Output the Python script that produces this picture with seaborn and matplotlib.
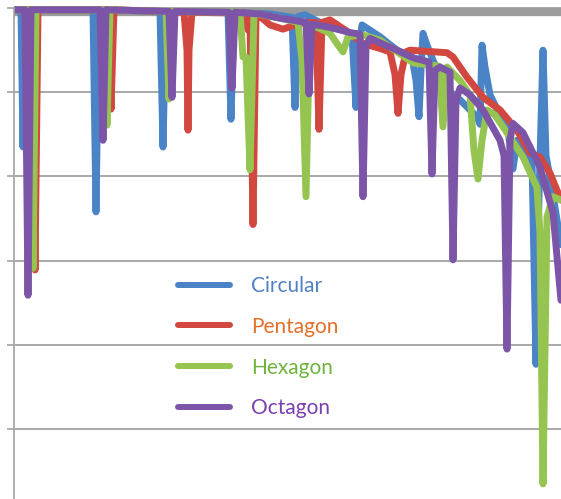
import matplotlib
matplotlib.use("Agg")
import matplotlib.pyplot as plt
import pandas as pd
import seaborn as sns

# Response of the four aperture shapes: frequency index vs. level (dB)
shapes = ["Circular", "Pentagon", "Hexagon", "Octagon"]

circular_freq = [0, 7, 9, 11, 79, 82, 85, 146, 149, 152, 214, 217, 220, 256, 278, 281, 284,
                 291, 301, 316, 331, 338, 342, 345, 348, 366, 383, 398, 402, 405, 407, 409,
                 413, 419, 426, 433, 446, 456, 463, 466, 468, 471, 476, 486, 494, 499, 503,
                 511, 518, 522, 525, 529, 532, 539, 547]
circular_level = [-0.2, -0.2, -16.5, -0.2, -0.2, -24.2, -0.2, -0.4, -16.5, -0.4, -0.5, -13.2,
                  -0.5, -0.7, -1.1, -11.8, -1.0, -0.8, -1.4, -2.3, -2.6, -3.2, -11.8, -4.4,
                  -2.0, -3.4, -5.0, -5.8, -8.6, -12.9, -7.4, -3.0, -4.4, -6.2, -8.0, -9.7,
                  -10.9, -12.1, -12.9, -13.8, -4.4, -7.0, -10.3, -12.7, -14.5, -19.1, -15.7,
                  -16.9, -18.1, -42.3, -22.2, -5.0, -17.5, -22.2, -28.1]

pentagon_freq = [0, 18, 21, 24, 94, 97, 100, 170, 173, 174, 175, 178, 231, 234, 236, 239, 242,
                 248, 256, 269, 281, 291, 302, 305, 308, 316, 331, 349, 366, 376, 381, 384,
                 387, 392, 396, 433, 439, 453, 469, 486, 503, 516, 526, 536, 547]
pentagon_level = [-0.2, -0.2, -31.1, -0.2, -0.2, -12.0, -0.2, -0.5, -5.0, -14.5, -5.0, -0.5,
                  -0.6, -2.6, -1.1, -25.7, -0.7, -1.2, -2.0, -2.5, -2.0, -1.7, -1.7, -14.4,
                  -1.7, -1.4, -2.6, -4.2, -4.8, -5.2, -7.9, -12.5, -7.9, -5.2, -5.0, -5.3,
                  -5.8, -8.2, -10.6, -12.1, -14.5, -17.2, -17.7, -19.6, -22.8]

hexagon_freq = [0, 16, 19, 22, 90, 93, 96, 152, 155, 158, 226, 229, 232, 236, 240, 248, 266,
                284, 288, 292, 295, 298, 316, 324, 329, 334, 349, 366, 399, 425, 429, 433,
                446, 456, 460, 464, 468, 473, 481, 493, 509, 523, 526, 529, 533, 539, 547]
hexagon_level = [-0.2, -0.2, -30.9, -0.2, -0.2, -13.9, -0.2, -0.4, -10.8, -0.4, -0.5, -5.8,
                 -5.8, -19.2, -0.6, -0.8, -1.2, -1.7, -6.2, -22.4, -6.2, -2.0, -3.0, -4.4,
                 -5.2, -3.4, -3.2, -3.8, -6.5, -6.9, -14.1, -7.0, -8.6, -10.3, -16.9, -20.3,
                 -15.7, -12.1, -12.7, -14.8, -17.7, -21.3, -26.7, -56.5, -24.8, -22.4, -22.8]

octagon_freq = [0, 11, 14, 17, 86, 89, 92, 155, 158, 161, 215, 218, 221, 246, 266, 292, 295,
                298, 316, 336, 346, 349, 352, 356, 383, 399, 415, 418, 421, 426, 436, 439,
                442, 446, 456, 469, 486, 490, 493, 496, 499, 509, 526, 539, 547]
octagon_level = [-0.2, -0.2, -34.1, -0.2, -0.2, -15.7, -0.2, -0.4, -10.6, -0.4, -0.5, -9.5,
                 -0.5, -0.7, -1.2, -1.7, -10.2, -1.9, -2.3, -2.9, -3.1, -22.4, -4.4, -3.6,
                 -5.0, -5.9, -6.4, -19.7, -7.4, -7.0, -7.6, -29.9, -10.9, -9.5, -10.3, -12.1,
                 -15.7, -17.5, -40.5, -15.7, -13.7, -14.8, -18.9, -24.3, -34.7]

line_colors = ["#4a83c6", "#d2473f", "#96c451", "#7d55a8"]
text_colors = ["#4f81c4", "#e0702a", "#6fb43f", "#7a3fb0"]
grid_ticks = [-50, -40, -30, -20, -10, 0]

frames = []
for name, fx, lv in [(shapes[0], circular_freq, circular_level),
                     (shapes[1], pentagon_freq, pentagon_level),
                     (shapes[2], hexagon_freq, hexagon_level),
                     (shapes[3], octagon_freq, octagon_level)]:
    frames.append(pd.DataFrame({"freq": fx, "level": lv, "shape": name}))
df = pd.concat(frames, ignore_index=True)

sns.set_theme(style="white")
plt.rcParams["font.family"] = ["Lato", "DejaVu Sans"]

fig = plt.figure(figsize=(5.61, 4.99), dpi=100)
ax = fig.add_axes([14 / 561, 0, 1 - 14 / 561, 1])

sns.lineplot(data=df, x="freq", y="level", hue="shape", hue_order=shapes,
             palette=dict(zip(shapes, line_colors)), estimator=None, sort=False,
             linewidth=5, solid_joinstyle="round", solid_capstyle="round", ax=ax)

ax.set_xlim(0, 547)
ax.set_ylim(-58.3, 0.96)

# horizontal axis line at the top of the plot
ax.axhline(-0.47, color="#9c9c9c", lw=6, zorder=1.5)

ax.set_yticks(grid_ticks)
ax.set_xticks([])
ax.yaxis.grid(True, color="#a8a8a8", lw=1.4)
ax.set_axisbelow(True)
ax.tick_params(axis="y", length=5, width=1.3, color="#a8a8a8", direction="out",
               labelleft=False, left=True)
ax.set_xlabel("")
ax.set_ylabel("")
for side in ["top", "right", "bottom"]:
    ax.spines[side].set_visible(False)
ax.spines["left"].set_color("#a8a8a8")
ax.spines["left"].set_linewidth(1.3)
ax.spines["left"].set_bounds(-58.3, 0)

handles, labels = ax.get_legend_handles_labels()
leg = ax.legend(handles, labels, loc="upper left", bbox_to_anchor=(0.2998, 0.447),
                frameon=False, fontsize=15, handlelength=2.5, handletextpad=1.0,
                labelspacing=1.0, borderpad=0, borderaxespad=0, labelcolor=text_colors)
for h in leg.get_lines():
    h.set_linewidth(4.3)
    h.set_solid_capstyle("round")

fig.savefig("out.png", dpi=100)
